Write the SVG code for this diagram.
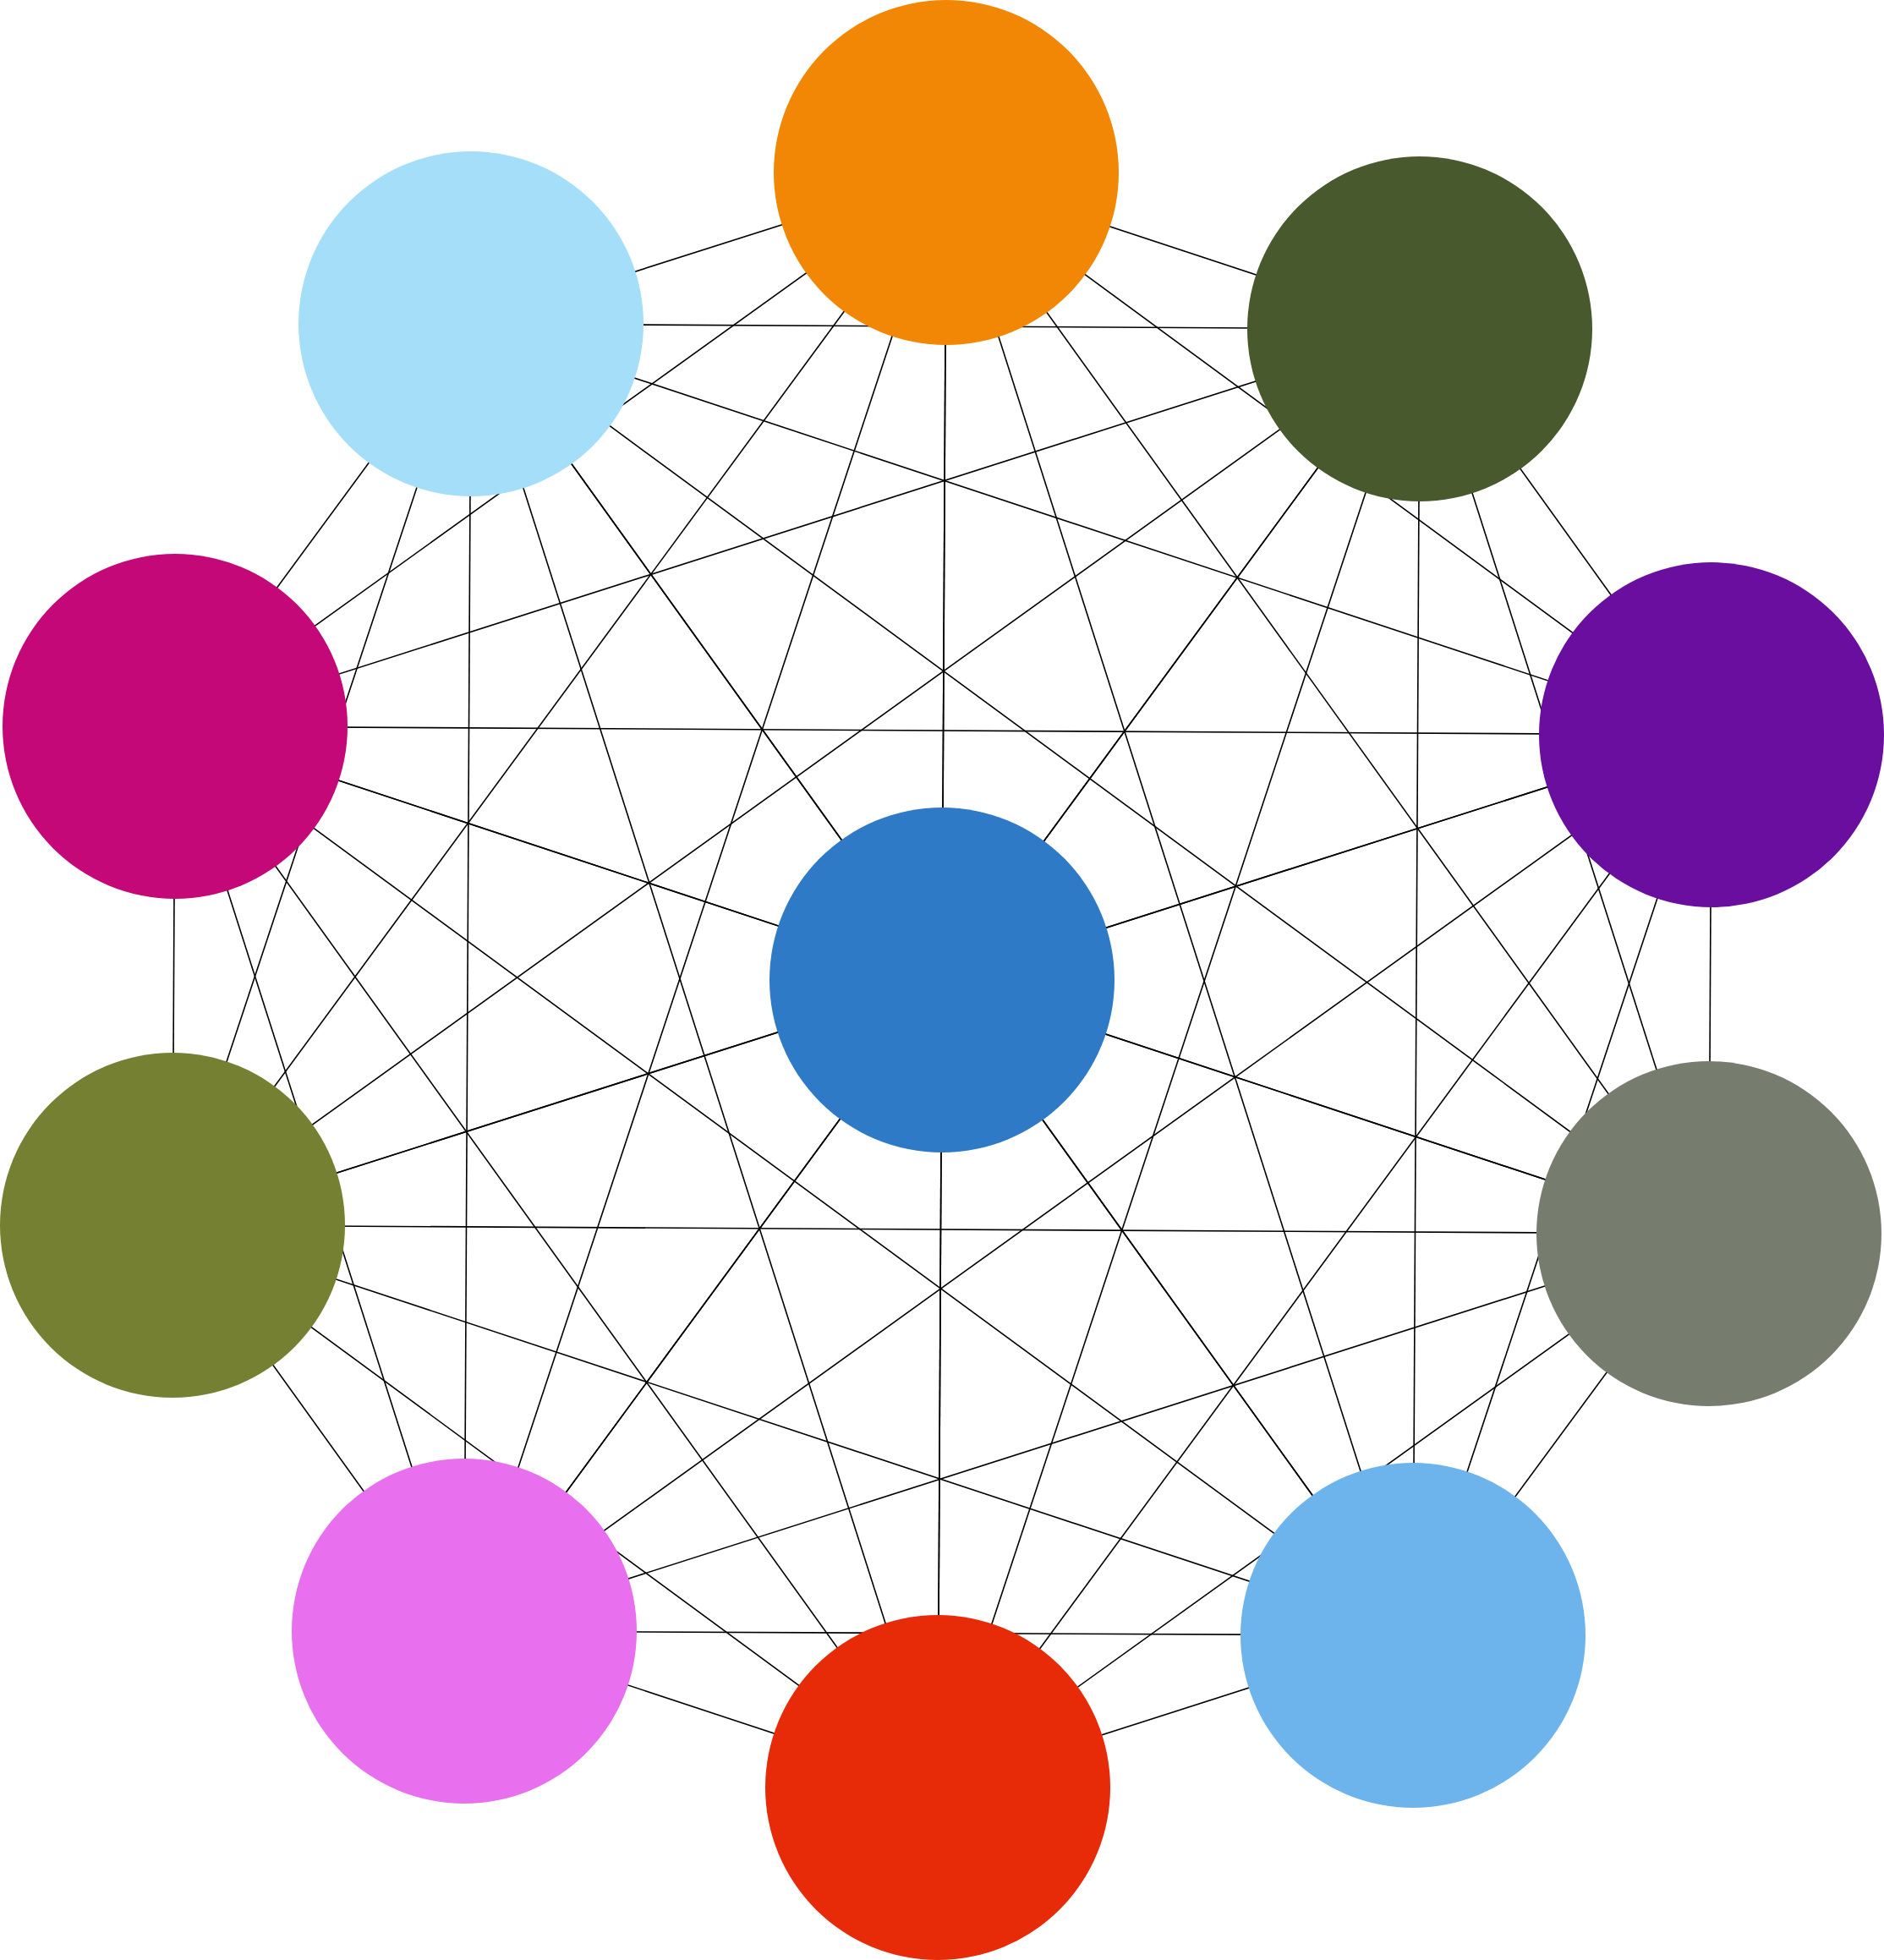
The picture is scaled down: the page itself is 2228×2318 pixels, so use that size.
<svg xmlns="http://www.w3.org/2000/svg" width="2228" height="2318" viewBox="0 0 2228 2318">
<style>
.e line{stroke:#000;stroke-width:1.6;fill:none}
.n{stroke:none}
</style>
<rect width="2228" height="2318" fill="#fff"/>
<g id="connectors" class="e">
<line x1="1114" y1="1159" x2="1119" y2="204"/>
<line x1="1114" y1="1159" x2="1679" y2="389"/>
<line x1="1114" y1="1159" x2="2024" y2="869"/>
<line x1="1114" y1="1159" x2="2021" y2="1459"/>
<line x1="1114" y1="1159" x2="1671" y2="1934"/>
<line x1="1114" y1="1159" x2="1109" y2="2114"/>
<line x1="1114" y1="1159" x2="549" y2="1929"/>
<line x1="1114" y1="1159" x2="204" y2="1449"/>
<line x1="1114" y1="1159" x2="207" y2="859"/>
<line x1="1114" y1="1159" x2="557" y2="383"/>
<line x1="1119" y1="204" x2="1679" y2="389"/>
<line x1="1119" y1="204" x2="2024" y2="869"/>
<line x1="1119" y1="204" x2="2021" y2="1459"/>
<line x1="1119" y1="204" x2="1671" y2="1934"/>
<line x1="1119" y1="204" x2="1109" y2="2114"/>
<line x1="1119" y1="204" x2="549" y2="1929"/>
<line x1="1119" y1="204" x2="204" y2="1449"/>
<line x1="1119" y1="204" x2="207" y2="859"/>
<line x1="1119" y1="204" x2="557" y2="383"/>
<line x1="1679" y1="389" x2="2024" y2="869"/>
<line x1="1679" y1="389" x2="2021" y2="1459"/>
<line x1="1679" y1="389" x2="1671" y2="1934"/>
<line x1="1679" y1="389" x2="1109" y2="2114"/>
<line x1="1679" y1="389" x2="549" y2="1929"/>
<line x1="1679" y1="389" x2="204" y2="1449"/>
<line x1="1679" y1="389" x2="207" y2="859"/>
<line x1="1679" y1="389" x2="557" y2="383"/>
<line x1="2024" y1="869" x2="2021" y2="1459"/>
<line x1="2024" y1="869" x2="1671" y2="1934"/>
<line x1="2024" y1="869" x2="1109" y2="2114"/>
<line x1="2024" y1="869" x2="549" y2="1929"/>
<line x1="2024" y1="869" x2="204" y2="1449"/>
<line x1="2024" y1="869" x2="207" y2="859"/>
<line x1="2024" y1="869" x2="557" y2="383"/>
<line x1="2021" y1="1459" x2="1671" y2="1934"/>
<line x1="2021" y1="1459" x2="1109" y2="2114"/>
<line x1="2021" y1="1459" x2="549" y2="1929"/>
<line x1="2021" y1="1459" x2="204" y2="1449"/>
<line x1="2021" y1="1459" x2="207" y2="859"/>
<line x1="2021" y1="1459" x2="557" y2="383"/>
<line x1="1671" y1="1934" x2="1109" y2="2114"/>
<line x1="1671" y1="1934" x2="549" y2="1929"/>
<line x1="1671" y1="1934" x2="204" y2="1449"/>
<line x1="1671" y1="1934" x2="207" y2="859"/>
<line x1="1671" y1="1934" x2="557" y2="383"/>
<line x1="1109" y1="2114" x2="549" y2="1929"/>
<line x1="1109" y1="2114" x2="204" y2="1449"/>
<line x1="1109" y1="2114" x2="207" y2="859"/>
<line x1="1109" y1="2114" x2="557" y2="383"/>
<line x1="549" y1="1929" x2="204" y2="1449"/>
<line x1="549" y1="1929" x2="207" y2="859"/>
<line x1="549" y1="1929" x2="557" y2="383"/>
<line x1="204" y1="1449" x2="207" y2="859"/>
<line x1="204" y1="1449" x2="557" y2="383"/>
<line x1="207" y1="859" x2="557" y2="383"/>
</g>
<g id="node-center"><circle class="n" cx="1114" cy="1159" r="204" fill="#2F7AC7"/></g>
<g id="node-orange"><circle class="n" cx="1119" cy="204" r="204" fill="#F18704"/></g>
<g id="node-darkgreen"><circle class="n" cx="1679" cy="389" r="204" fill="#47592D"/></g>
<g id="node-purple"><circle class="n" cx="2024" cy="869" r="204" fill="#6A0EA0"/></g>
<g id="node-gray"><circle class="n" cx="2021" cy="1459" r="204" fill="#777D6E"/></g>
<g id="node-lightblue2"><circle class="n" cx="1671" cy="1934" r="204" fill="#6EB4EC"/></g>
<g id="node-red"><circle class="n" cx="1109" cy="2114" r="204" fill="#E72A08"/></g>
<g id="node-pink"><circle class="n" cx="549" cy="1929" r="204" fill="#E870EE"/></g>
<g id="node-olive"><circle class="n" cx="204" cy="1449" r="204" fill="#768033"/></g>
<g id="node-magenta"><circle class="n" cx="207" cy="859" r="204" fill="#C50877"/></g>
<g id="node-lightblue1"><circle class="n" cx="557" cy="383" r="204" fill="#A5DEF9"/></g>
</svg>
